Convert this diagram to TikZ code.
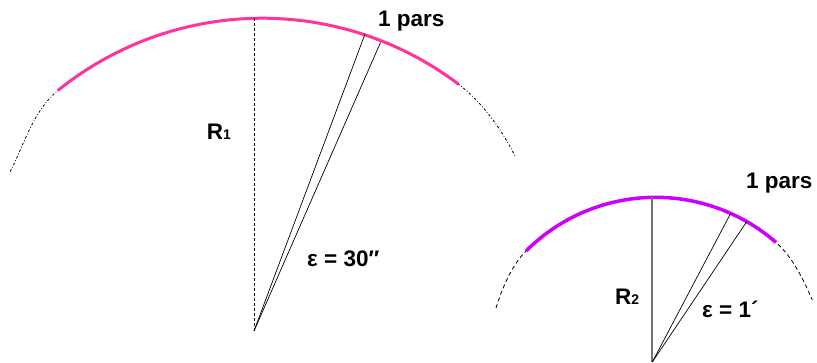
\documentclass[tikz,border=0pt]{standalone}
\usepackage{fontspec}
\setmainfont{Liberation Sans}
\usetikzlibrary{calc}
\definecolor{cPink}{RGB}{255,51,153}
\definecolor{cViolet}{RGB}{204,0,255}
\definecolor{cAxis}{RGB}{115,115,115}
\tikzset{
  rimA/.style={line width=0.8pt, dash pattern=on 2.5pt off 2pt on 0.8pt off 2pt},
  rimB/.style={line width=0.8pt, dash pattern=on 4pt off 3pt},
  pinkarc/.style={line width=3pt, draw=cPink},
  violarc/.style={line width=3.5pt, draw=cViolet},
  ray/.style={line width=0.7pt},
  axisA/.style={line width=0.8pt, dash pattern=on 3pt off 2pt},
  axisB/.style={line width=1.7pt, draw=cAxis},
  lab/.style={font=\bfseries\fontsize{22.5}{24}\selectfont, inner sep=0pt, anchor=base west},
}
\newcommand{\idx}[1]{{\fontsize{14}{14}\selectfont #1}}

\begin{document}
\begin{tikzpicture}[x=1pt, y=-1pt]
  \useasboundingbox (0,0) rectangle (817,363);
  \coordinate (O1) at (254,331);
  \coordinate (T1) at (254,18);
  \coordinate (P1) at (365,34);
  \coordinate (Q1) at (380.5,42.5);
  \coordinate (L1) at (10.2,171.6);
  \coordinate (E1) at (514.8,155.6);
  \coordinate (O2) at (652.3,362);
  \coordinate (T2) at (652.3,197.3);
  \coordinate (P2) at (730.7,213.3);
  \coordinate (Q2) at (746.7,221.7);
  \coordinate (L2) at (496,308);
  \coordinate (E2) at (812.3,300);

  \draw[rimA] (L1) .. controls (24.2,144) and (33.7,110.3) .. (57.7,90.6)
    -- plot[domain=129:52.8, samples=60] ({262.2+325*cos(\x)},{343.2-325*sin(\x)})
    .. controls (482.5,102.6) and (501.3,128.9) .. (E1);
  \draw[pinkarc] plot[domain=129:52.8, samples=60] ({262.2+325*cos(\x)},{343.2-325*sin(\x)});
  \draw[axisA] (O1) -- (T1);
  \draw[ray] (O1) -- (P1);
  \draw[ray] (O1) -- (Q1);

  \draw[rimB] (L2) .. controls (502.3,288) and (511.3,265.8) .. (526.1,251)
    -- plot[domain=135:48.9, samples=50] ({655.6+183.2*cos(\x)},{380.5-183.2*sin(\x)})
    .. controls (792.6,256.9) and (803.5,279.8) .. (E2);
  \draw[violarc] plot[domain=135:48.9, samples=50] ({655.6+183.2*cos(\x)},{380.5-183.2*sin(\x)});
  \draw[axisB] (O2) -- (T2);
  \draw[ray] (O2) -- (P2);
  \draw[ray] (O2) -- (Q2);

  \node[lab] (pars1) at (378,26.7) {1 pars};
  \node[lab] (pars2) at (746,188.3) {1 pars};
  \node[lab] (r1) at (206.7,139.3) {R\idx{1}};
  \node[lab] (eps1) at (307,266.7) {ε = 30″};
  \node[lab] (r2) at (615,305) {R\idx{2}};
  \node[lab] (eps2) at (702,318) {ε = 1´};
\end{tikzpicture}
\end{document}
